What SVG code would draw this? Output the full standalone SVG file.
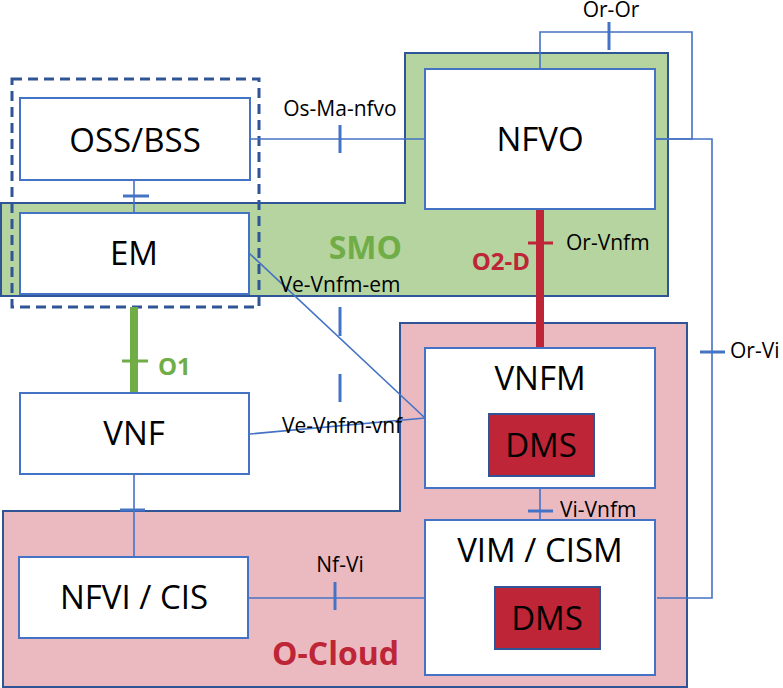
<svg xmlns="http://www.w3.org/2000/svg" width="783" height="688" viewBox="0 0 783 688">
<style>
.box{fill:#fff;stroke:#4472C4;stroke-width:2}
.dms{fill:#BE2537;stroke:#2F5597;stroke-width:2}
.region{stroke:#2F5597;stroke-width:2}
.ln{fill:none;stroke:#4472C4;stroke-width:1.6}
.tick{stroke:#4472C4;stroke-width:3}
.big{font-family:"Open Sans","Liberation Sans",sans-serif;font-size:33px;fill:#000;text-anchor:middle}
.lbl{font-family:"Open Sans","Liberation Sans",sans-serif;font-size:21px;fill:#000}
.bold{font-family:"Open Sans","Liberation Sans",sans-serif;font-weight:bold}
</style>
<rect width="783" height="688" fill="#fff"/>
<g id="regions">
<path id="smo-region" class="region" fill="#B5D4A0" d="M1,203 H405 V53 H668 V296 H1 Z"/>
<path id="ocloud-region" class="region" fill="#EBBAC1" d="M3,511 H400 V323 H687 V687 H3 Z"/>
<rect id="oss-em-group" x="12" y="79" width="247" height="228" fill="none" stroke="#2F5597" stroke-width="3" stroke-dasharray="10,6"/>
</g>
<g id="connectors">
<line class="ln" x1="250" y1="139" x2="425" y2="139"/>
<line class="tick" x1="340" y1="125" x2="340" y2="153"/>
<line class="ln" x1="134" y1="180" x2="134" y2="213"/>
<line class="tick" x1="123" y1="196" x2="149" y2="196"/>
<polyline class="ln" points="540,69 540,32 692,32 692,139 655,139"/>
<line class="tick" x1="609" y1="22" x2="609" y2="50"/>
<polyline class="ln" points="655,139 712,139 712,598 657,598"/>
<line class="tick" x1="700" y1="352" x2="725" y2="352"/>
<line x1="540" y1="209" x2="540" y2="349" stroke="#BE2537" stroke-width="8"/>
<line x1="528" y1="243" x2="553" y2="243" stroke="#BE2537" stroke-width="3"/>
<line class="ln" x1="249" y1="253" x2="425" y2="418"/>
<line class="ln" x1="250" y1="434" x2="425" y2="418"/>
<line class="tick" x1="340" y1="307" x2="340" y2="336"/>
<line class="tick" x1="340" y1="374" x2="340" y2="402"/>
<line x1="134" y1="307" x2="134" y2="393" stroke="#70AD47" stroke-width="8"/>
<line x1="122" y1="361" x2="148" y2="361" stroke="#70AD47" stroke-width="3"/>
<line class="ln" x1="134" y1="474" x2="134" y2="557"/>
<line class="tick" x1="120" y1="510" x2="145" y2="510"/>
<line class="ln" x1="540" y1="488" x2="540" y2="520"/>
<line class="tick" x1="528" y1="511" x2="553" y2="511"/>
<line class="ln" x1="248" y1="598" x2="425" y2="598"/>
<line class="tick" x1="335" y1="582" x2="335" y2="610"/>
</g>
<g id="labels">
<text class="lbl" x="340" y="116" text-anchor="middle">Os-Ma-nfvo</text>
<text class="lbl" x="611" y="17" text-anchor="middle">Or-Or</text>
<text class="lbl" x="566" y="250">Or-Vnfm</text>
<text class="lbl" x="340" y="292" text-anchor="middle">Ve-Vnfm-em</text>
<text class="lbl" x="342" y="433" text-anchor="middle">Ve-Vnfm-vnf</text>
<text class="lbl" x="730" y="358">Or-Vi</text>
<text class="lbl" x="560" y="517">Vi-Vnfm</text>
<text class="lbl" x="340" y="572" text-anchor="middle">Nf-Vi</text>
<text class="bold" x="158" y="375" font-size="24" fill="#70AD47">O1</text>
<text class="bold" x="530" y="270" font-size="24" fill="#BE2537" text-anchor="end">O2-D</text>
<text class="bold" x="402" y="259" font-size="32" fill="#70AD47" text-anchor="end">SMO</text>
<text class="bold" x="399" y="665" font-size="32" fill="#BE2537" text-anchor="end">O-Cloud</text>
</g>
<g id="oss-bss"><rect class="box" x="20" y="98" width="230" height="82"/><text class="big" x="135" y="152">OSS/BSS</text></g>
<g id="em"><rect class="box" x="20" y="213" width="229" height="81"/><text class="big" x="134" y="265">EM</text></g>
<g id="nfvo"><rect class="box" x="425" y="69" width="230" height="140"/><text class="big" x="540" y="151">NFVO</text></g>
<g id="vnf"><rect class="box" x="20" y="393" width="229" height="81"/><text class="big" x="134" y="445">VNF</text></g>
<g id="nfvi-cis"><rect class="box" x="19" y="557" width="229" height="81"/><text class="big" x="134" y="609">NFVI / CIS</text></g>
<g id="vnfm"><rect class="box" x="425" y="348" width="230" height="140"/><text class="big" x="540" y="390">VNFM</text></g>
<g id="dms-vnfm"><rect class="dms" x="489" y="414" width="105" height="62"/><text class="big" x="541" y="457">DMS</text></g>
<g id="vim-cism"><rect class="box" x="425" y="520" width="230" height="155"/><text class="big" x="540" y="562">VIM / CISM</text></g>
<g id="dms-vim"><rect class="dms" x="495" y="587" width="105" height="62"/><text class="big" x="547" y="630">DMS</text></g>
</svg>
